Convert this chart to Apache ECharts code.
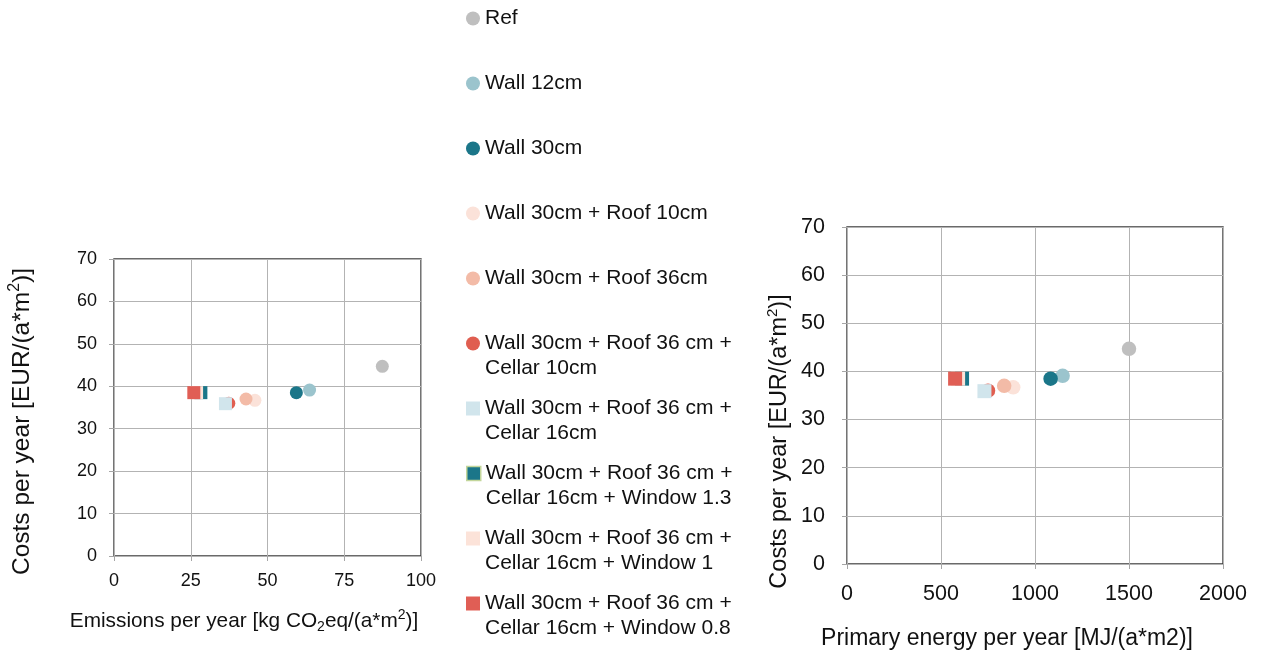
<!DOCTYPE html>
<html>
<head>
<meta charset="utf-8">
<script src="https://cdn.jsdelivr.net/npm/echarts@6/dist/echarts.min.js"></script>
<style>
  html, body { margin: 0; padding: 0; background: #ffffff; }
  #chart { width: 1265px; height: 652px; }
</style>
</head>
<body>
<div id="chart"></div>
<script>
// Refurbishment variants (legend order = drawing order)
const variants = [
  'Ref',
  'Wall 12cm',
  'Wall 30cm',
  'Wall 30cm + Roof 10cm',
  'Wall 30cm + Roof 36cm',
  'Wall 30cm + Roof 36 cm +\nCellar 10cm',
  'Wall 30cm + Roof 36 cm +\nCellar 16cm',
  'Wall 30cm + Roof 36 cm +\nCellar 16cm + Window 1.3',
  'Wall 30cm + Roof 36 cm +\nCellar 16cm + Window 1',
  'Wall 30cm + Roof 36 cm +\nCellar 16cm + Window 0.8'
];
// Emissions per year [kg CO2eq/(a*m2)]
const emissions = [87.4, 63.7, 59.4, 45.9, 43.0, 37.4, 36.3, 28.3, 26.9, 26.0];
// Primary energy per year [MJ/(a*m2)]
const primaryEnergy = [1500, 1147, 1083, 884, 836, 750, 731, 612, 591, 575];
// Costs per year [EUR/(a*m2)]
const costs = [44.7, 39.1, 38.5, 36.7, 37.0, 36.0, 35.9, 38.5, 38.5, 38.5];

const markerShapes = ['circle', 'circle', 'circle', 'circle', 'circle', 'circle', 'rect', 'rect', 'rect', 'rect'];
const markerColors = ['#bfbfbf', '#9bc4cd', '#1b7689', '#fbe2d9', '#f3bba7', '#e05e50',
                      '#d1e5ec', '#1b7689', '#fce3d9', '#e05e55'];
const markerBorders = [null, null, null, null, null, null, null, '#c3d69b', null, null];

const FONT = 'Liberation Sans, Arial, sans-serif';
const TEXT = '#111111';

const chart = echarts.init(document.getElementById('chart'), null, { renderer: 'canvas' });

const scriptRich = (size, lh) => ({
  sub: { fontSize: size, fontFamily: FONT, color: TEXT, verticalAlign: 'bottom', lineHeight: lh },
  sup: { fontSize: size, fontFamily: FONT, color: TEXT, verticalAlign: 'top', lineHeight: lh }
});

function valueAxis(gridIndex, min, max, interval, opts) {
  const lh = Math.round(opts.nameSize * 1.25);
  return {
    type: 'value', gridIndex, min, max, interval,
    name: opts.name,
    nameLocation: 'middle',
    nameGap: opts.nameGap,
    nameRotate: opts.nameRotate,
    nameTextStyle: {
      fontFamily: FONT, fontSize: opts.nameSize, color: TEXT, lineHeight: lh,
      padding: opts.namePadding, rich: scriptRich(Math.round(opts.nameSize * 0.65), lh)
    },
    axisLine: { show: false },
    axisTick: { show: true, length: 5, lineStyle: { color: '#a6a6a6', width: 1 } },
    axisLabel: {
      fontFamily: FONT, fontSize: opts.labelSize, color: TEXT, margin: opts.labelMargin,
      formatter: (v) => String(v)
    },
    splitLine: { show: true, lineStyle: { color: '#b3b3b3', width: 1 } }
  };
}

const gridBase = {
  show: true, borderColor: '#3a3a3a', borderWidth: 1.4, backgroundColor: 'transparent',
  containLabel: false, outerBoundsMode: 'none'
};
const grids = [
  Object.assign({ left: 114, top: 259, width: 307, height: 297 }, gridBase),
  Object.assign({ left: 847, top: 227, width: 376, height: 337 }, gridBase)
];

const xAxes = [
  valueAxis(0, 0, 100, 25, {
    name: 'Emissions per year [kg CO{sub|2}eq/(a*m{sup|2})]',
    nameGap: 52, nameSize: 20.8, namePadding: [0, 47, 0, 0], labelSize: 18, labelMargin: 16
  }),
  valueAxis(1, 0, 2000, 500, {
    name: 'Primary energy per year [MJ/(a*m2)]',
    nameGap: 60, nameSize: 23, namePadding: [0, 56, 0, 0], labelSize: 21.5, labelMargin: 19
  })
];
const yAxes = [
  valueAxis(0, 0, 70, 10, {
    name: 'Costs per year [EUR/(a*m{sup|2})]',
    nameGap: 76, nameRotate: 90, nameSize: 24.5, namePadding: [0, 28, 0, 0], labelSize: 18, labelMargin: 17
  }),
  valueAxis(1, 0, 70, 10, {
    name: 'Costs per year [EUR/(a*m{sup|2})]',
    nameGap: 53, nameRotate: 90, nameSize: 23.5, namePadding: [0, 92, 0, 0], labelSize: 21.5, labelMargin: 22
  })
];

// One scatter series per variant and panel; same name links both to the legend entry
const series = [];
variants.forEach((name, i) => {
  const style = { color: markerColors[i], opacity: 1 };
  series.push({
    type: 'scatter', name, xAxisIndex: 0, yAxisIndex: 0,
    symbol: markerShapes[i], symbolSize: 13,
    itemStyle: style,
    data: [[emissions[i], costs[i]]]
  });
  series.push({
    type: 'scatter', name, xAxisIndex: 1, yAxisIndex: 1,
    symbol: markerShapes[i], symbolSize: markerShapes[i] === 'rect' ? 14 : 14.5,
    itemStyle: style,
    data: [[primaryEnergy[i], costs[i]]]
  });
});

// Legend column: one block per entry, first text line aligned with its marker
const LEGEND_STEP = 65, LEGEND_FIRST = 18.5, LINE_H = 25;
const legends = variants.map((name, i) => {
  const twoLine = name.indexOf('\n') >= 0;
  const item = { name, icon: markerShapes[i] };
  if (markerBorders[i]) {
    item.itemStyle = { color: markerColors[i], borderColor: markerBorders[i], borderWidth: 1.5 };
  }
  return {
    data: [item],
    orient: 'vertical',
    left: 466,
    top: LEGEND_FIRST + LEGEND_STEP * i - (twoLine ? LINE_H * 1.5 : LINE_H / 2),
    padding: 0,
    itemWidth: 14, itemHeight: 14,
    itemGap: 4,
    selectedMode: false,
    formatter: (n) => (n.indexOf('\n') >= 0 ? '\n' + n : n),
    textStyle: { fontFamily: FONT, fontSize: 21, lineHeight: LINE_H, color: TEXT }
  };
});

chart.setOption({
  backgroundColor: '#ffffff',
  animation: false,
  textStyle: { fontFamily: FONT },
  grid: grids,
  xAxis: xAxes,
  yAxis: yAxes,
  legend: legends,
  series
});
</script>
</body>
</html>
